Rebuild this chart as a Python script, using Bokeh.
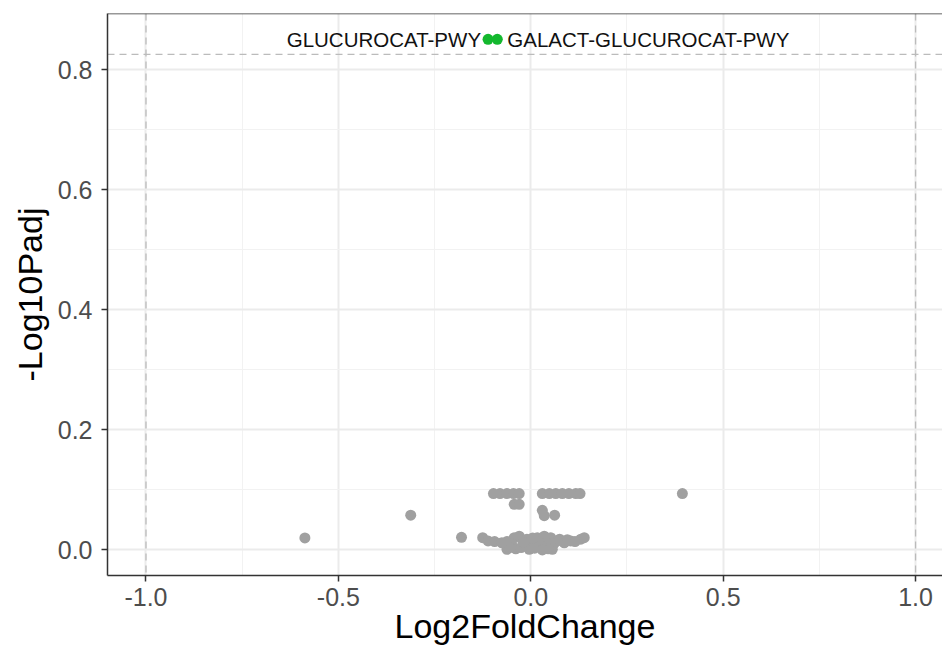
from bokeh.plotting import figure
from bokeh.models import ColumnDataSource, Range1d, FixedTicker, Span
from bokeh.core.properties import value
from bokeh.embed import file_html
from bokeh.resources import INLINE

# ---- data ----
grey_x = [-0.587, -0.312, -0.180, 0.394,
          -0.097, -0.080, -0.062, -0.045, -0.030,
          0.030, 0.048, 0.065, 0.082, 0.099, 0.117, 0.128,
          -0.043, -0.030,
          0.030, 0.035, 0.062,
          -0.125, -0.111, -0.094, -0.062, -0.062, -0.043, -0.030, -0.039, -0.017, -0.004,
          0.009, 0.017, 0.035, 0.052, 0.056, 0.069, 0.087, 0.104, 0.130, 0.139,
          -0.050, -0.025, 0.000, 0.025, 0.040, 0.010, -0.010, 0.020, 0.060, 0.075,
          0.095, 0.115, 0.045, -0.055, 0.030, -0.075, -0.020, 0.005]
grey_y = [0.020, 0.058, 0.021, 0.094,
          0.094, 0.094, 0.094, 0.094, 0.094,
          0.094, 0.094, 0.094, 0.094, 0.094, 0.094, 0.094,
          0.076, 0.076,
          0.066, 0.057, 0.058,
          0.0205, 0.015, 0.014, 0.014, 0.001, 0.0205, 0.023, 0.002, 0.0095, 0.001,
          0.012, 0.0205, 0.023, 0.0205, 0.001, 0.015, 0.012, 0.015, 0.018, 0.0205,
          0.010, 0.004, 0.016, 0.006, 0.012, 0.003, 0.018, 0.014, 0.010, 0.018,
          0.017, 0.014, 0.002, 0.004, 0.000, 0.012, 0.013, 0.020]

sig_x = [-0.111, -0.087]
sig_y = [0.851, 0.851]
sig_names = ["GLUCUROCAT-PWY", "GALACT-GLUCUROCAT-PWY"]

fc_cut = [-1.0, 1.0]
padj_cut = 0.826

x_ticks = [-1.0, -0.5, 0.0, 0.5, 1.0]
x_tick_labels = ["-1.0", "-0.5", "0.0", "0.5", "1.0"]
x_minor = [-0.75, -0.25, 0.25, 0.75]
y_ticks = [0.0, 0.2, 0.4, 0.6, 0.8]
y_tick_labels = ["0.0", "0.2", "0.4", "0.6", "0.8"]
y_minor = [0.1, 0.3, 0.5, 0.7]

FONT = "Liberation Sans"

p = figure(width=942, height=652,
           x_range=Range1d(-1.1, 1.070), y_range=Range1d(-0.0426, 0.894),
           output_backend="svg", toolbar_location=None,
           min_border_left=107, min_border_right=0, min_border_top=13,
           min_border_bottom=77)
p.outline_line_color = None
p.background_fill_color = "white"
p.border_fill_color = "white"

for ax, ticks, minor, labels in ((p.xaxis[0], x_ticks, x_minor, x_tick_labels),
                                 (p.yaxis[0], y_ticks, y_minor, y_tick_labels)):
    ax.ticker = FixedTicker(ticks=ticks, minor_ticks=minor)
    ax.major_label_overrides = {t: l for t, l in zip(ticks, labels)}
    ax.major_label_text_font = FONT
    ax.major_label_text_font_size = "25px"
    ax.major_label_text_color = "#4d4d4d"
    ax.major_tick_line_color = "#333333"
    ax.major_tick_line_width = 1.5
    ax.major_tick_in = 0
    ax.major_tick_out = 6
    ax.minor_tick_line_color = None
    ax.axis_line_color = "#333333"
    ax.axis_line_width = 1.5
    ax.axis_label_text_font = FONT
    ax.axis_label_text_font_size = "34px"
    ax.axis_label_text_font_style = "normal"
    ax.axis_label_text_color = "black"

p.xaxis.axis_label = "Log2FoldChange"
p.yaxis.axis_label = "-Log10Padj"
p.xaxis.major_label_standoff = 6
p.yaxis.major_label_standoff = 9
p.xaxis.axis_label_standoff = -2
p.yaxis.axis_label_standoff = 6

for g in (p.xgrid[0], p.ygrid[0]):
    g.grid_line_color = "#ebebeb"
    g.grid_line_width = 2
    g.minor_grid_line_color = "#f2f2f2"
    g.minor_grid_line_width = 1

p.xgrid[0].ticker = FixedTicker(ticks=x_ticks, minor_ticks=x_minor)
p.ygrid[0].ticker = FixedTicker(ticks=y_ticks, minor_ticks=y_minor)

# top border
p.add_layout(Span(location=0.894, dimension="width", line_color="#333333", line_width=1.5))

# threshold lines
for xv in fc_cut:
    p.add_layout(Span(location=xv, dimension="height", line_color="#bbbbbb",
                      line_dash="7 5", line_width=1.3, level="underlay"))
p.add_layout(Span(location=padj_cut, dimension="width", line_color="#bbbbbb",
                  line_dash="7 5", line_width=1.3, level="underlay"))

p.scatter(grey_x, grey_y, size=11, color="#a0a0a0", line_color=None)
p.scatter(sig_x, sig_y, size=11, color="#13b82e", line_color=None)

lab_src = ColumnDataSource(dict(x=sig_x, y=sig_y, t=sig_names,
                                align=["right", "left"], off=[-7, 10]))
p.text(x="x", y="y", text="t", source=lab_src, text_align="align", x_offset="off",
       text_baseline="middle", text_font=value(FONT), text_font_size="20.5px",
       text_color="#111111")

open("out.html", "w").write(file_html(p, INLINE))
